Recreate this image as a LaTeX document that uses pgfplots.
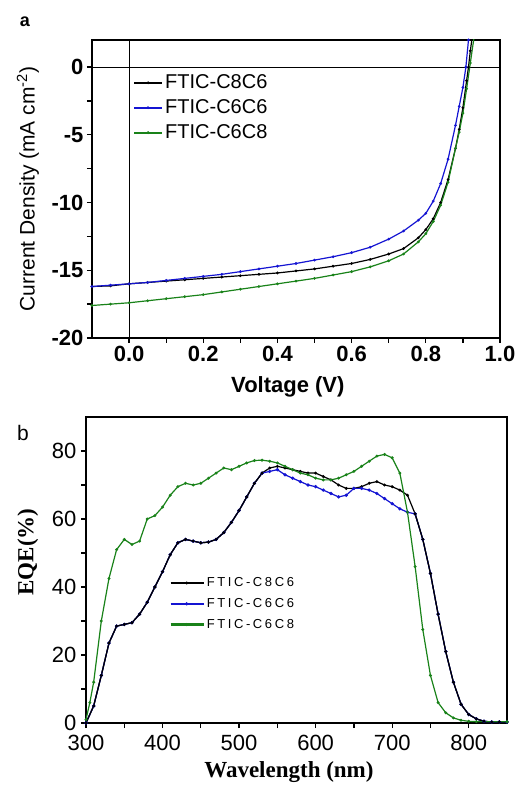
\documentclass[border=0pt]{standalone}
\usepackage{fontspec}
\setmainfont{Liberation Sans}
\newfontfamily\serifb{Liberation Serif}
\newfontfamily\legsp{Liberation Sans}[LetterSpace=20]
\usepackage{pgfplots}
\pgfplotsset{compat=1.18}
\definecolor{cblue}{RGB}{20,20,210}
\definecolor{cgreen}{RGB}{25,130,25}
\begin{document}
\begin{tikzpicture}
\path[use as bounding box] (0,0) rectangle (520pt,787pt);
\node[anchor=center,font=\fontsize{18}{20}\selectfont\bfseries] at (25pt,765pt) {a};
\node[anchor=center,font=\fontsize{21}{22}\selectfont] at (23pt,354pt) {b};
% ---------- panel a ----------
\begin{axis}[
  at={(92pt,449pt)}, anchor=south west, scale only axis,
  width=408pt, height=298pt,
  xmin=-0.1, xmax=1.0, ymin=-20, ymax=2,
  xtick={0,0.2,0.4,0.6,0.8,1.0},
  xticklabels={0.0,0.2,0.4,0.6,0.8,1.0},
  ytick={-20,-15,-10,-5,0},
  yticklabels={-20,-15,-10,-5,0},
  minor x tick num=1, minor y tick num=1,
  tick align=outside, xtick pos=bottom, ytick pos=left,
  major tick length=5pt, minor tick length=5pt,
  every tick/.style={black, line width=1.3pt},
  axis line style={line width=1.8pt},
  tick label style={font=\fontsize{22}{24}\selectfont\bfseries},
  /pgf/number format/assume math mode=true,
  xlabel={Voltage (V)},
  ylabel={Current Density (mA cm\textsuperscript{-2})},
  xlabel style={font=\fontsize{22}{24}\selectfont\bfseries, at={(axis description cs:0.48,-0.164)}, anchor=center},
  ylabel style={font=\fontsize{21}{24}\selectfont, at={(axis description cs:-0.157,0.5)}, anchor=center, rotate=0},
  legend style={draw=none, fill=none, at={(axis description cs:0.10,0.89)}, anchor=north west,
    font=\fontsize{20}{23}\selectfont, row sep=5.5pt, inner sep=0pt},
  legend cell align=left,
  legend image code/.code={\draw[#1, mark=none, line width=2.2pt] (0pt,0pt) -- (28pt,0pt); \draw[#1, only marks] plot coordinates {(14pt,0pt)};},
]
\draw[line width=1pt] (axis cs:0,-20) -- (axis cs:0,2);
\draw[line width=1pt] (axis cs:-0.1,0) -- (axis cs:1.0,0);
\addplot[black, line width=1.2pt, mark=*, mark size=0.7pt] coordinates {
(-0.1,-16.2) (-0.05,-16.15) (0,-16.0) (0.05,-15.9) (0.1,-15.8) (0.15,-15.7) (0.2,-15.6) (0.25,-15.5) (0.3,-15.4) (0.35,-15.3) (0.4,-15.2) (0.45,-15.05) (0.5,-14.9) (0.55,-14.7) (0.6,-14.5) (0.65,-14.2) (0.7,-13.8) (0.74,-13.4) (0.78,-12.6) (0.8,-12.0) (0.82,-11.2) (0.84,-10.0) (0.86,-8.3) (0.88,-6.0) (0.89,-4.6) (0.9,-3.0) (0.91,-1.0) (0.915,0) (0.92,1.2) (0.925,2.2)};
\addlegendentry{FTIC-C8C6}
\addplot[cblue, line width=1.2pt, mark=*, mark size=0.7pt] coordinates {
(-0.1,-16.2) (-0.05,-16.1) (0,-16.0) (0.05,-15.9) (0.1,-15.75) (0.15,-15.6) (0.2,-15.45) (0.25,-15.3) (0.3,-15.1) (0.35,-14.9) (0.4,-14.7) (0.45,-14.5) (0.5,-14.25) (0.55,-14.0) (0.6,-13.7) (0.65,-13.3) (0.7,-12.7) (0.74,-12.1) (0.78,-11.3) (0.8,-10.8) (0.82,-9.9) (0.84,-8.6) (0.86,-6.8) (0.88,-4.3) (0.89,-2.9) (0.9,-1.5) (0.908,0) (0.915,2.0) (0.918,2.6)};
\addlegendentry{FTIC-C6C6}
\addplot[cgreen, line width=1.2pt, mark=*, mark size=0.7pt] coordinates {
(-0.1,-17.6) (-0.05,-17.5) (0,-17.4) (0.05,-17.25) (0.1,-17.1) (0.15,-16.95) (0.2,-16.8) (0.25,-16.6) (0.3,-16.4) (0.35,-16.2) (0.4,-16.0) (0.45,-15.8) (0.5,-15.6) (0.55,-15.35) (0.6,-15.1) (0.65,-14.75) (0.7,-14.3) (0.74,-13.8) (0.78,-12.9) (0.8,-12.3) (0.82,-11.4) (0.84,-10.2) (0.86,-8.5) (0.88,-6.0) (0.89,-4.8) (0.9,-3.4) (0.91,-1.6) (0.92,0.3) (0.93,2.2)};
\addlegendentry{FTIC-C6C8}
\end{axis}
% ---------- panel b ----------
\begin{axis}[
  at={(86pt,64pt)}, anchor=south west, scale only axis,
  width=421pt, height=306pt,
  xmin=300, xmax=850, ymin=0, ymax=90,
  xtick={300,400,500,600,700,800},
  ytick={0,20,40,60,80},
  minor x tick num=1, minor y tick num=1,
  tick align=outside, xtick pos=bottom, ytick pos=left,
  major tick length=5pt, minor tick length=5pt,
  every tick/.style={black, line width=1.3pt},
  axis line style={line width=1.8pt},
  tick label style={font=\fontsize{22}{24}\selectfont},
  xticklabel style={yshift=-4pt},
  yticklabel style={xshift=-1pt},
  /pgf/number format/assume math mode=true,
  xlabel={Wavelength (nm)},
  ylabel={EQE(\%)},
  xlabel style={font=\fontsize{23}{24}\serifb\bfseries, at={(axis description cs:0.482,-0.16)}, anchor=center},
  ylabel style={font=\fontsize{23}{24}\serifb\bfseries, at={(axis description cs:-0.138,0.559)}, anchor=center},
  legend style={draw=none, fill=none, at={(axis description cs:0.198,0.482)}, anchor=north west,
    font=\fontsize{13}{16}\legsp, row sep=6.2pt, inner sep=0pt},
  legend cell align=left,
  legend image code/.code={\draw[#1, mark=none, line width=2.2pt] (0pt,0pt) -- (33pt,0pt); \draw[#1, only marks] plot coordinates {(16pt,0pt)};},
]
\addplot[black, line width=1.2pt, mark=*, mark size=0.8pt] coordinates {
(300,0) (310,5) (320,14) (330,23.5) (340,28.5) (350,29) (360,29.5) (370,32) (380,35.5) (390,40) (400,44.5) (410,49.5) (420,53) (430,54) (440,53.5) (450,53) (460,53.2) (470,54) (480,56) (490,59) (500,62.5) (510,66.5) (520,70.5) (530,73.5) (540,75) (550,75.5) (560,75) (570,74.5) (580,74) (590,73.5) (600,73.5) (610,72.5) (620,71.5) (630,70) (640,69) (650,69) (660,69.5) (670,70.5) (680,71) (690,70) (700,69.5) (710,68.5) (720,67) (730,61.5) (740,54) (750,44) (760,32) (770,21) (780,12) (790,5.5) (800,2.5) (810,1.2) (820,0.5) (830,0.3) (840,0.3) (850,0.3)};
\addlegendentry{FTIC-C8C6}
\addplot[cblue, line width=1.2pt, mark=*, mark size=1pt] coordinates {
(300,0) (310,5) (320,14) (330,23.5) (340,28.5) (350,29) (360,29.5) (370,32) (380,35.5) (390,40) (400,44.5) (410,49.5) (420,53) (430,54) (440,53.5) (450,53) (460,53.2) (470,54) (480,56) (490,59) (500,62.5) (510,66.5) (520,70.5) (530,73.5) (540,74) (550,74.5) (560,73) (570,72) (580,71) (590,70) (600,69.5) (610,68.5) (620,67.5) (630,66.5) (640,67) (650,69) (660,69) (670,68.5) (680,67.5) (690,66) (700,64.5) (710,63) (720,62) (730,61.5) (740,54) (750,44) (760,32) (770,21) (780,12) (790,5.5) (800,2.5) (810,1.2) (820,0.5) (830,0.3) (840,0.3) (850,0.3)};
\addlegendentry{FTIC-C6C6}
\addplot[black, line width=1.2pt, mark=*, mark size=0.8pt, forget plot] coordinates {
(300,0) (310,5) (320,14) (330,23.5) (340,28.5) (350,29) (360,29.5) (370,32) (380,35.5) (390,40) (400,44.5) (410,49.5) (420,53) (430,54) (440,53.5) (450,53) (460,53.2) (470,54) (480,56) (490,59) (500,62.5) (510,66.5) (520,70.5) (530,73.5)};
\addplot[black, line width=1.2pt, mark=*, mark size=0.8pt, forget plot] coordinates {
(730,61.5) (740,54) (750,44) (760,32) (770,21) (780,12) (790,5.5) (800,2.5) (810,1.2) (820,0.5) (830,0.3) (840,0.3) (850,0.3)};
\addplot[cgreen, line width=1.2pt, mark=*, mark size=0.8pt] coordinates {
(300,1) (305,6) (310,12) (320,30) (330,42.5) (340,51) (350,54) (360,52.5) (370,53.5) (380,60) (390,61) (400,63.5) (410,67) (420,69.5) (430,70.5) (440,70) (450,70.5) (460,72) (470,73.5) (480,75) (490,74.5) (500,75.5) (510,76.5) (520,77.2) (530,77.3) (540,77) (550,76.5) (560,75.5) (570,74.5) (580,73.5) (590,73) (600,72) (610,71.5) (620,71.5) (630,72) (640,73) (650,74) (660,75.5) (670,77) (680,78.5) (690,79) (700,78) (710,73.5) (720,62) (730,46) (740,27.5) (750,14) (760,6) (770,3) (780,1.5) (790,0.8) (800,0.5) (810,0.4) (850,0.4)};
\addlegendentry{FTIC-C6C8}
\end{axis}
\end{tikzpicture}
\end{document}
